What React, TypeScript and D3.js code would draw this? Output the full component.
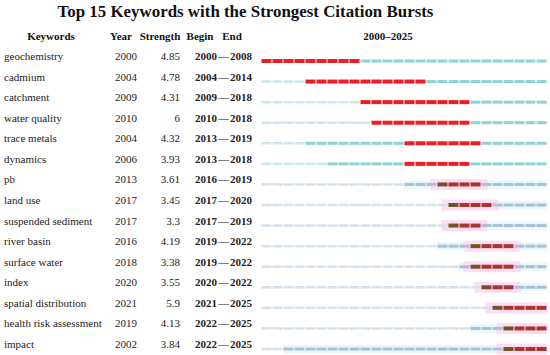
import { FC } from 'react';
import * as d3 from 'd3';

const keywords = [
  'geochemistry', 'cadmium', 'catchment', 'water quality', 'trace metals',
  'dynamics', 'pb', 'land use', 'suspended sediment', 'river basin',
  'surface water', 'index', 'spatial distribution', 'health risk assessment', 'impact'
];
const firstYear = [2000, 2004, 2009, 2010, 2004, 2006, 2013, 2017, 2017, 2016, 2018, 2020, 2021, 2019, 2002];
const strength = ['4.85', '4.78', '4.31', '6', '4.32', '3.93', '3.61', '3.45', '3.3', '4.19', '3.38', '3.55', '5.9', '4.13', '3.84'];
const burstBegin = [2000, 2004, 2009, 2010, 2013, 2013, 2016, 2017, 2017, 2019, 2019, 2020, 2021, 2022, 2022];
const burstEnd = [2008, 2014, 2018, 2018, 2019, 2018, 2019, 2020, 2019, 2022, 2022, 2022, 2025, 2025, 2025];
const startYear = 2000;
const endYear = 2025;

const FONT = '"Liberation Serif", "Times New Roman", serif';

const App: FC = () => {
  const width = 550;
  const height = 355;

  const x = d3.scaleLinear().domain([startYear, endYear + 1]).range([261, 547]);
  const y = d3.scalePoint<string>().domain(keywords).range([61, 349]);
  const years = d3.range(startYear, endYear + 1);
  const segW = x(startYear + 1) - x(startYear);

  return (
    <svg width={width} height={height} style={{ position: 'absolute', left: 0, top: 0, background: '#fff' }}
         fontFamily={FONT}>
      <text x={245.5} y={17} textAnchor="middle" fontSize={16.9} fontWeight="bold" fill="#111">
        Top 15 Keywords with the Strongest Citation Bursts
      </text>

      {/* header */}
      <g fontSize={11} fontWeight="bold" fill="#111">
        <text x={51} y={40} textAnchor="middle">Keywords</text>
        <text x={121} y={40} textAnchor="middle">Year</text>
        <text x={160} y={40} textAnchor="middle">Strength</text>
        <text x={200} y={40} textAnchor="middle">Begin</text>
        <text x={232} y={40} textAnchor="middle">End</text>
        <text x={388} y={40} textAnchor="middle">{startYear}–{endYear}</text>
      </g>

      {keywords.map((k, i) => {
        const cy = y(k)!;
        const late = i >= 6;
        const textY = cy - 1;
        const haloX0 = x(burstBegin[i] - 1) + segW * 0.4;
        const haloX1 = Math.min(x(burstEnd[i] + 1) + segW * 0.6, x(endYear + 1));
        return (
          <g key={k}>
            <g fontSize={11} fill="#222">
              <text x={4} y={textY}>{k}</text>
              <text x={115} y={textY}>{firstYear[i]}</text>
              <text x={180} y={textY} textAnchor="end">{strength[i]}</text>
              <text x={195} y={textY} fontWeight="bold">{burstBegin[i]}</text>
              <text x={223.5} y={textY} textAnchor="middle">—</text>
              <text x={230} y={textY} fontWeight="bold">{burstEnd[i]}</text>
            </g>

            {late && (
              <>
                {/* light cyan band behind the active years */}
                <rect x={x(firstYear[i])} y={cy - 4} width={x(endYear + 1) - x(firstYear[i])} height={8}
                      fill="#e6f8fc" />
                {/* pink halo around the burst */}
                <rect x={haloX0} y={cy - 5.5} width={haloX1 - haloX0} height={11} fill="#ffdcf5" />
              </>
            )}

            {years.map(yr => {
              const x0 = x(yr) + 0.5;
              const w = segW - 1;
              const inBurst = yr >= burstBegin[i] && yr <= burstEnd[i];
              const active = yr >= firstYear[i];
              let fill: string;
              let h: number;
              if (inBurst) {
                h = 4;
                if (late) fill = yr === burstBegin[i] ? '#6f5424' : '#a8362c';
                else fill = '#ee1c25';
              } else if (active) {
                h = 3;
                fill = late ? '#a9c0d8' : '#8dd1d9';
              } else {
                h = 2.5;
                fill = late ? '#d3e2ec' : '#c9e7ee';
              }
              return <rect key={yr} x={x0} y={cy - h / 2} width={w} height={h} fill={fill} />;
            })}
          </g>
        );
      })}
    </svg>
  );
};

export default App;
